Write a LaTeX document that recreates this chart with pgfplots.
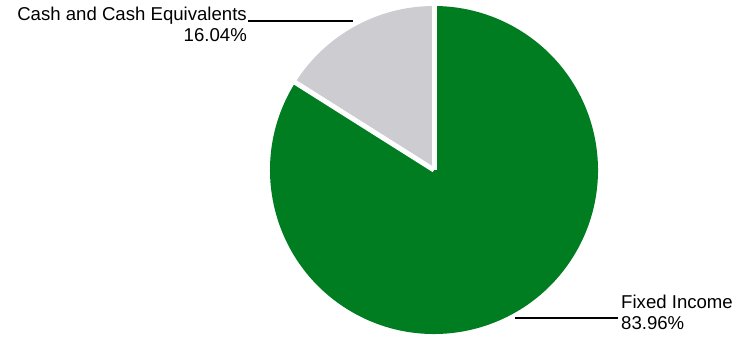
\documentclass[border=0pt]{standalone}
\usepackage{pgfplots}
\pgfplotsset{compat=1.18}
\usepackage{pgfplotstable}
\usepackage{fontspec}
\setmainfont{Liberation Sans}
\definecolor{pgreen}{RGB}{0,125,32}
\definecolor{pgray}{RGB}{204,204,209}
\pgfplotstableread{
name share
Cash 16.04
Fixed 83.96
}\piedata
\begin{document}
\begin{tikzpicture}
\pgfplotstablegetelem{0}{share}\of\piedata
\let\cashshare\pgfplotsretval
\pgfplotstablegetelem{1}{share}\of\piedata
\let\fixedshare\pgfplotsretval
\pgfmathsetmacro{\angA}{90}
\pgfmathsetmacro{\angB}{90+3.6*\cashshare}
\pgfmathsetmacro{\angC}{\angB+3.6*\fixedshare}
\begin{axis}[width=746pt,height=337pt,scale only axis,hide axis,
  xmin=0,xmax=746,ymin=0,ymax=337,clip=false]
\path (axis cs:0,0) rectangle (axis cs:746,337);
\fill[pgray] (axis cs:434,167) -- ++(\angA:164pt) arc[start angle=\angA,end angle=\angB,radius=164pt] -- cycle;
\fill[pgreen] (axis cs:434,167) -- ++(\angB:164pt) arc[start angle=\angB,end angle=\angC,radius=164pt] -- cycle;
\draw[white,line width=5pt] (axis cs:434,167) -- ++(\angA:166pt);
\draw[white,line width=5pt] (axis cs:434,167) -- ++(\angB:166pt);
\draw[black,line width=1.8pt] (axis cs:248,316) -- (axis cs:353,316);
\draw[black,line width=1.8pt] (axis cs:515,19) -- (axis cs:618,19);
\node[anchor=base east,inner sep=0pt,font=\fontsize{18.6}{20}\selectfont] at (axis cs:247,316) {Cash and Cash Equivalents};
\node[anchor=base east,inner sep=0pt,font=\fontsize{18.6}{20}\selectfont] at (axis cs:247,295) {\cashshare\%};
\node[anchor=base west,inner sep=0pt,font=\fontsize{18.6}{20}\selectfont] at (axis cs:621,28.5) {Fixed Income};
\node[anchor=base west,inner sep=0pt,font=\fontsize{18.6}{20}\selectfont] at (axis cs:621,7.5) {\fixedshare\%};
\end{axis}
\end{tikzpicture}
\end{document}
